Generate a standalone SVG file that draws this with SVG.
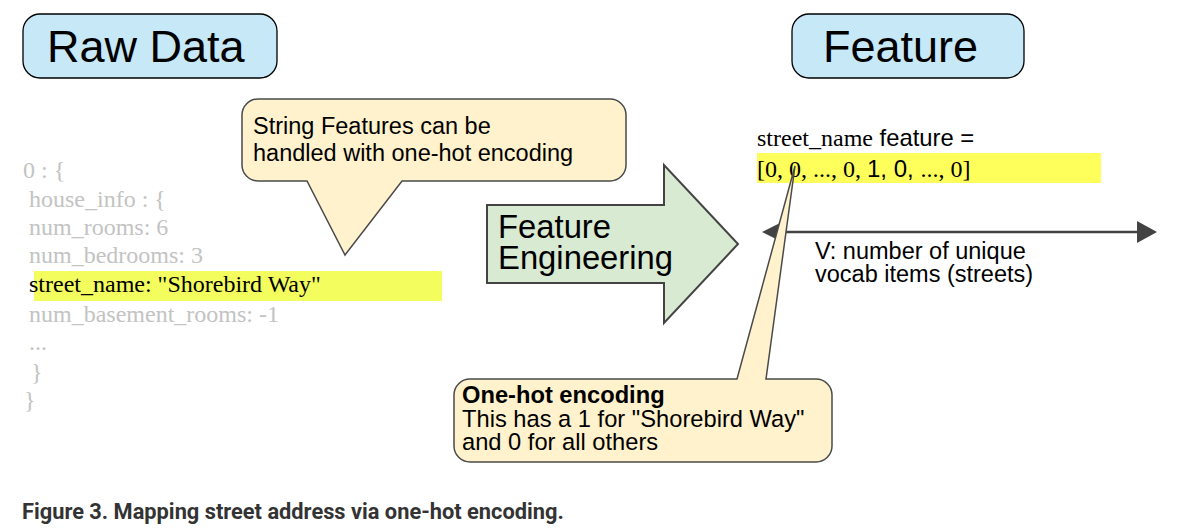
<svg xmlns="http://www.w3.org/2000/svg" width="1194" height="532" viewBox="0 0 1194 532">
<defs>
<style>
.title{font-family:"Liberation Sans",Arial,sans-serif;font-size:45px;fill:#000}
.sans{font-family:"Liberation Sans",Arial,sans-serif;font-size:23.5px;fill:#000}
.serif{font-family:"Liberation Serif","Times New Roman",serif;font-size:24px}
.code{font-family:"Liberation Serif","Times New Roman",serif;font-size:24px;fill:#c3c3c3}
.box{fill:#c6e8f7;stroke:#000;stroke-width:1.3}
.callout{fill:#fff2cc;stroke:#4a4a4a;stroke-width:1.5}
.caption{font-family:Roboto,"Liberation Sans",sans-serif;font-weight:bold;font-size:21.8px;fill:#333}
</style>
</defs>
<rect width="1194" height="532" fill="#fff"/>
<g id="raw-data-title">
<rect class="box" x="23" y="14" width="254" height="64" rx="17"/>
<text class="title" x="47" y="62">Raw Data</text>
</g>
<g id="feature-title">
<rect class="box" x="792" y="14" width="232" height="64" rx="17"/>
<text class="title" x="823" y="62">Feature</text>
</g>
<g id="raw-data">
<rect x="34" y="271" width="408" height="30" fill="#f4fd5e"/>
<text class="code" x="23" y="178">0 : {</text>
<text class="code" x="29" y="207">house_info : {</text>
<text class="code" x="29" y="235">num_rooms: 6</text>
<text class="code" x="29" y="263">num_bedrooms: 3</text>
<text class="code" x="29" y="292" style="fill:#000">street_name: "Shorebird Way"</text>
<text class="code" x="29" y="322">num_basement_rooms: -1</text>
<text class="code" x="29" y="350">...</text>
<text class="code" x="31" y="380">}</text>
<text class="code" x="24" y="408">}</text>
</g>
<g id="string-callout">
<path class="callout" d="M258,99 H610 A16,16 0 0 1 626,115 V165 A16,16 0 0 1 610,181 H402 L345,255 L307,181 H258 A16,16 0 0 1 242,165 V115 A16,16 0 0 1 258,99 Z"/>
<text class="sans" x="253" y="134">String Features can be</text>
<text class="sans" x="253" y="161">handled with one-hot encoding</text>
</g>
<g id="feature-engineering">
<path d="M487,205 H664 V165 L738,244 L664,323 V283 H487 Z" fill="#d9ead3" stroke="#434343" stroke-width="2"/>
<text class="sans" style="font-size:32.8px" x="498" y="238">Feature</text>
<text class="sans" style="font-size:32.8px" x="498" y="269">Engineering</text>
</g>
<g id="feature-vector">
<rect x="757" y="153" width="344" height="30" fill="#ffff5c"/>
<text x="757" y="146"><tspan class="serif">street_name</tspan><tspan class="sans" style="font-size:23.8px"> feature =</tspan></text>
<text x="757" y="177"><tspan class="serif">[0, 0, ..., 0, </tspan><tspan class="sans" style="font-size:24px">1, 0, </tspan><tspan class="serif">..., 0]</tspan></text>
</g>
<g id="connectors">
<line x1="780" y1="232" x2="1139" y2="232" stroke="#434343" stroke-width="2.5"/>
<polygon points="762,232 782,222 782,242" fill="#434343"/>
<polygon points="1157,232 1137,221 1137,243" fill="#434343"/>
</g>
<g id="vocab-label">
<text class="sans" x="815" y="259">V: number of unique</text>
<text class="sans" x="815" y="282">vocab items (streets)</text>
</g>
<g id="onehot-callout">
<path class="callout" d="M470,379 H737 L795,166 L766,379 H816 A16,16 0 0 1 832,395 V446 A16,16 0 0 1 816,462 H470 A16,16 0 0 1 454,446 V395 A16,16 0 0 1 470,379 Z"/>
<text class="sans" style="font-size:23.7px" x="462" y="403" font-weight="bold">One-hot encoding</text>
<text class="sans" style="font-size:23.7px" x="462" y="427">This has a 1 for "Shorebird Way"</text>
<text class="sans" style="font-size:23.7px" x="462" y="450">and 0 for all others</text>
</g>
<g id="caption">
<text class="caption" x="22" y="519">Figure 3. Mapping street address via one-hot encoding.</text>
</g>
</svg>
